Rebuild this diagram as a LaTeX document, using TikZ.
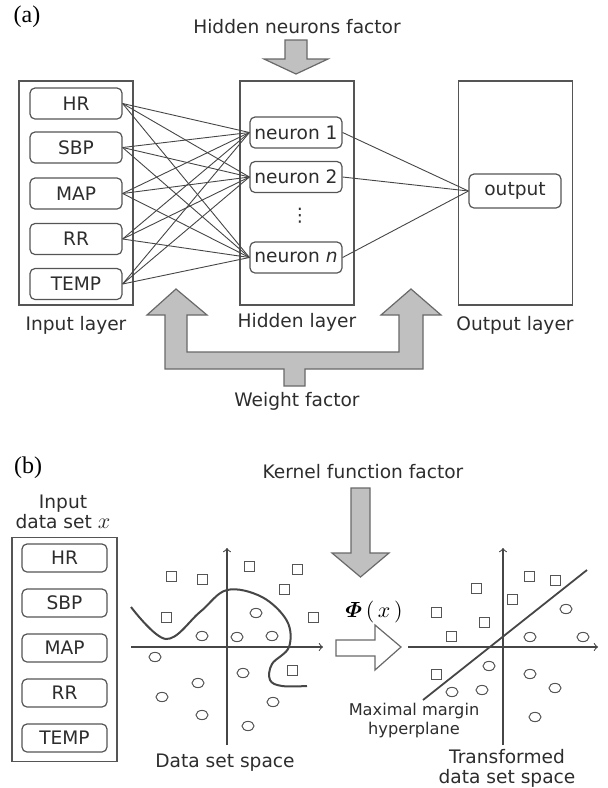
\documentclass[tikz,border=0pt]{standalone}
\usepackage{amsmath}
\usepackage{fontspec}
\usepackage{bm}
\setmainfont{DejaVu Sans}
\newfontfamily\tagfont{Liberation Serif}
\usetikzlibrary{shapes.geometric}

\definecolor{boxline}{RGB}{85,85,85}
\definecolor{linkline}{RGB}{70,70,70}
\definecolor{arrowfill}{RGB}{192,192,192}
\definecolor{arrowline}{RGB}{105,105,105}
\definecolor{txt}{RGB}{45,45,45}

\tikzset{
  layer/.style={draw=boxline, line width=0.7pt, minimum width=57pt, minimum height=112pt, inner sep=0pt},
  unit/.style={draw=boxline, line width=0.6pt, rounded corners=2.5pt, minimum width=46pt,
    minimum height=15.5pt, inner sep=0pt, text=txt, font=\fontsize{9.3}{11}\selectfont},
  label/.style={text=txt, inner sep=0pt, font=\fontsize{9.3}{10}\selectfont},
  tag/.style={inner sep=0pt, font=\tagfont\fontsize{12}{14}\selectfont},
  link/.style={draw=linkline, line width=0.45pt},
  bigarrow/.style={draw=arrowline, fill=arrowfill, line width=0.6pt, line join=miter},
  axis/.style={draw=linkline, line width=0.55pt, ->},
  sqr/.style={draw=boxline, line width=0.5pt, minimum size=5pt, inner sep=0pt},
  pnt/.style={ellipse, draw=boxline, line width=0.5pt, minimum width=6pt, minimum height=4.6pt, inner sep=0pt}
}

\begin{document}
\begin{tikzpicture}[x=0.5pt, y=-0.5pt]
\useasboundingbox (0,0) rectangle (608,788);

% (a) neural network
\node[tag] (taga) at (27,17) {(a)};
\node[label] (hnf) at (297,27) {Hidden neurons factor};
\draw[bigarrow] (285,40) -- (307,40) -- (307,59) -- (328,59) -- (296,74) -- (264,59) -- (285,59) -- cycle;

\node[layer] (inlayer) at (76,193) {};
\node[layer] (hidlayer) at (297,193) {};
\node[layer] (outlayer) at (515.5,193) {};

\node[unit] (hr) at (76,103.5) {HR};
\node[unit] (sbp) at (76,147.5) {SBP};
\node[unit] (map) at (76,193.5) {MAP};
\node[unit] (rr) at (76,239) {RR};
\node[unit] (temp) at (76,284) {TEMP};

\node[unit] (n1) at (296,132.5) {neuron 1};
\node[unit] (n2) at (296,177) {neuron 2};
\node[label] (ndots) at (300,216) {⋮};
\node[unit] (nn) at (296,257.5) {neuron \textit{n}};

\node[unit, minimum height=17pt] (out) at (515,191) {output};

\foreach \a in {hr,sbp,map,rr,temp}
  \foreach \b in {n1,n2,nn}
    \draw[link] (\a.east) -- (\b.west);
\foreach \b in {n1,n2,nn}
  \draw[link] (\b.east) -- (out.west);

\node[label] (inlab) at (76,325) {Input layer};
\node[label] (hidlab) at (297,322) {Hidden layer};
\node[label] (outlab) at (515,325) {Output layer};

\draw[bigarrow] (165,369) -- (165,315) -- (147,315) -- (176,289) -- (207,315) -- (187,315)
  -- (187,352) -- (399,352) -- (399,315) -- (381,315) -- (411,289) -- (441,315) -- (423,315)
  -- (423,369) -- (305,369) -- (305,386) -- (284,386) -- (284,369) -- cycle;
\node[label] (wf) at (297,401) {Weight factor};

% (b) SVM
\node[tag] (tagb) at (28,468) {(b)};
\node[label, align=center] (indata) at (63,512) {Input\\data set {\fontsize{11}{10}\selectfont$x$}};
\node[layer, minimum width=52.5pt] (inbox) at (64.5,649.5) {};
\foreach \t/\y [count=\i] in {HR/558, SBP/603, MAP/648, RR/693, TEMP/738}
  \node[unit, minimum width=42.5pt, minimum height=14pt] (bin\i) at (64.5,\y) {\t};

\node[label] (kff) at (363,472) {Kernel function factor};
\draw[bigarrow] (351,488) -- (370,488) -- (370,553) -- (389,553) -- (360.5,577) -- (332,553) -- (351,553) -- cycle;

% data set space
\draw[axis] (131,647) -- (323,647);
\draw[axis] (227,745) -- (227,548);
\foreach \px/\py [count=\i] in {171/576, 202/579, 249/566, 297/569, 284/589, 166/617, 313/617, 292/670}
  \node[sqr] (dsq\i) at (\px,\py) {};
\foreach \px/\py [count=\i] in {256/613, 202/636, 237/637, 272/636, 155/657, 243/673, 198/683, 162/697, 273/702, 202/715, 248/726}
  \node[pnt] (dpt\i) at (\px,\py) {};
\draw[linkline, line width=1pt] plot[smooth, tension=0.6] coordinates
  {(131,607) (166,639) (200,612) (227,590) (262,597) (287,621) (289,647) (272,664) (270,680) (282,686) (307,686)};
\node[label] (dss) at (225,763) {Data set space};

\node[inner sep=0pt, font=\fontsize{11}{12}\selectfont] (phi) at (374,612) {$\bm{\varPhi}\,(\,x\,)$};
\draw[draw=arrowline, fill=white, line width=0.6pt] (336,640) -- (375,640) -- (375,625) -- (401,647)
  -- (375,670) -- (375,656) -- (336,656) -- cycle;

% transformed data set space
\draw[axis] (408,647) -- (598,647);
\draw[axis] (503,745) -- (503,548);
\foreach \px/\py [count=\i] in {529/576, 555/580, 476/588, 512/599, 436/612, 484/622, 451/636, 436/674}
  \node[sqr] (tsq\i) at (\px,\py) {};
\foreach \px/\py [count=\i] in {566/609, 530/637, 583/637, 489/666, 530/674, 452/692, 482/690, 555/688, 535/717}
  \node[pnt] (tpt\i) at (\px,\py) {};
\draw[linkline, line width=0.9pt] (423,700) -- (587,570);
\node[label, align=center, font=\fontsize{8.1}{9.5}\selectfont] (mmh) at (414,721) {Maximal margin\\hyperplane};
\node[label, align=center] (tds) at (507,768) {Transformed\\data set space};
\end{tikzpicture}
\end{document}
